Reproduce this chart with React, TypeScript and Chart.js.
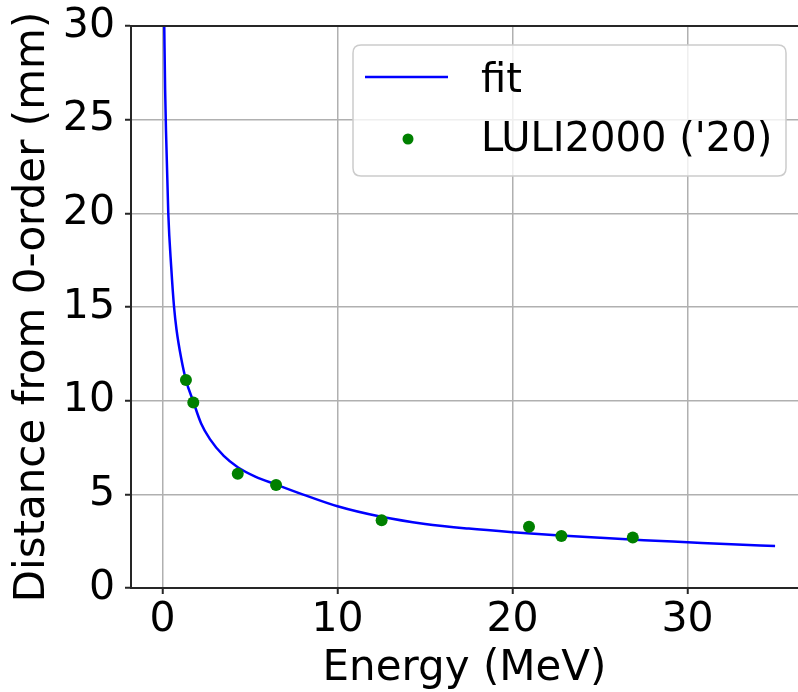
import React, { useEffect, useRef } from "react";
import { Chart, registerables } from "chart.js";

Chart.register(...registerables);

// Fit curve (Energy in MeV, distance in mm)
const fitEnergy = [0.1, 0.15, 0.2, 0.33, 0.5, 0.66, 0.8, 1.06, 1.34, 1.76, 2.2, 2.71, 3.5, 4.3, 5.3, 6.5, 8, 10, 12.5, 15, 17.5, 20, 22.5, 25, 27.5, 30, 32.5, 35];
const fitDistance = [30.0, 26.6, 24.4, 20.0, 17.1, 15.0, 13.8, 12.3, 11.1, 9.95, 8.8, 7.95, 7.05, 6.45, 5.95, 5.52, 5.0, 4.36, 3.8, 3.42, 3.17, 2.98, 2.82, 2.68, 2.55, 2.44, 2.33, 2.24];

// Measured points
const luliEnergy = [1.34, 1.76, 4.3, 6.49, 12.52, 20.94, 22.79, 26.87];
const luliDistance = [11.1, 9.9, 6.1, 5.5, 3.62, 3.27, 2.78, 2.69];

const xTicks = [0, 10, 20, 30];
const yTicks = [0, 5, 10, 15, 20, 25, 30];

const fitLabel = "fit";
const luliLabel = "LULI2000 ('20)";
const xTitle = "Energy (MeV)";
const yTitle = "Distance from 0-order (mm)";

const FONT = "'DejaVu Sans', sans-serif";
const FIT_COLOR = "#0000ff";
const DOT_COLOR = "#008000";
const SPINE = "#262626";

export default function App() {
  const ref = useRef<HTMLCanvasElement>(null);

  useEffect(() => {
    const canvas = ref.current;
    if (!canvas) return;

    const framePlugin = {
      id: "frameAndLegend",
      afterDraw(chart: any) {
        const ctx = chart.ctx as CanvasRenderingContext2D;
        const a = chart.chartArea;
        ctx.save();
        // top spine
        ctx.strokeStyle = SPINE;
        ctx.lineWidth = 2;
        ctx.beginPath();
        ctx.moveTo(a.left - 1, a.top);
        ctx.lineTo(a.right, a.top);
        ctx.stroke();

        // legend box
        const bx = 353, by = 45, bw = 433, bh = 131, r = 8;
        ctx.beginPath();
        ctx.moveTo(bx + r, by);
        ctx.lineTo(bx + bw - r, by);
        ctx.quadraticCurveTo(bx + bw, by, bx + bw, by + r);
        ctx.lineTo(bx + bw, by + bh - r);
        ctx.quadraticCurveTo(bx + bw, by + bh, bx + bw - r, by + bh);
        ctx.lineTo(bx + r, by + bh);
        ctx.quadraticCurveTo(bx, by + bh, bx, by + bh - r);
        ctx.lineTo(bx, by + r);
        ctx.quadraticCurveTo(bx, by, bx + r, by);
        ctx.closePath();
        ctx.fillStyle = "rgba(255,255,255,0.8)";
        ctx.fill();
        ctx.strokeStyle = "#cccccc";
        ctx.lineWidth = 1.5;
        ctx.stroke();

        const ds = chart.data.datasets;
        // fit handle
        ctx.strokeStyle = ds[0].borderColor;
        ctx.lineWidth = 2.5;
        ctx.beginPath();
        ctx.moveTo(365, 77);
        ctx.lineTo(448, 77);
        ctx.stroke();
        // marker handle
        ctx.fillStyle = ds[1].backgroundColor;
        ctx.beginPath();
        ctx.arc(408, 139, 5.5, 0, Math.PI * 2);
        ctx.fill();

        ctx.fillStyle = "#000";
        ctx.font = `40px ${FONT}`;
        ctx.textAlign = "left";
        ctx.textBaseline = "alphabetic";
        ctx.fillText(ds[0].label, 481, 92);
        ctx.fillText(ds[1].label, 481, 151);
        ctx.restore();
      },
    };

    const chart = new Chart(canvas, {
      type: "scatter",
      data: {
        datasets: [
          {
            label: fitLabel,
            data: fitEnergy.map((x, i) => ({ x, y: fitDistance[i] })),
            showLine: true,
            borderColor: FIT_COLOR,
            backgroundColor: FIT_COLOR,
            borderWidth: 2.5,
            pointRadius: 0,
            cubicInterpolationMode: "monotone",
            order: 2,
          } as any,
          {
            label: luliLabel,
            data: luliEnergy.map((x, i) => ({ x, y: luliDistance[i] })),
            showLine: false,
            backgroundColor: DOT_COLOR,
            borderColor: DOT_COLOR,
            borderWidth: 0,
            pointRadius: 6,
            order: 1,
          } as any,
        ],
      },
      options: {
        responsive: false,
        animation: false,
        devicePixelRatio: 1,
        layout: { autoPadding: false, padding: { left: 10, top: 26, right: 0, bottom: 0 } },
        plugins: {
          legend: { display: false },
          tooltip: { enabled: false },
        },
        scales: {
          x: {
            type: "linear",
            min: -1.8,
            max: 36.31,
            afterBuildTicks: (s: any) => {
              s.ticks = xTicks.map((v) => ({ value: v }));
            },
            afterFit: (s: any) => {
              s.height = 104;
            },
            ticks: {
              font: { family: FONT, size: 41, lineHeight: 1.2 },
              color: "#000",
              padding: 2,
              maxRotation: 0,
              autoSkip: false,
              callback: (v: any) => String(v),
            },
            grid: {
              color: "#b0b0b0",
              lineWidth: 1.5,
              tickLength: 6,
              tickColor: SPINE,
              tickWidth: 2,
            },
            border: { display: true, color: SPINE, width: 2 },
            title: {
              display: true,
              text: xTitle,
              color: "#000",
              font: { family: FONT, size: 42, lineHeight: 1.1 },
              padding: 0,
            },
          },
          y: {
            type: "linear",
            min: 0,
            max: 30,
            afterBuildTicks: (s: any) => {
              s.ticks = yTicks.map((v) => ({ value: v }));
            },
            afterFit: (s: any) => {
              s.width = 121;
            },
            ticks: {
              font: { family: FONT, size: 41, lineHeight: 0.7 },
              color: "#000",
              padding: 10,
              autoSkip: false,
              callback: (v: any) => String(v),
            },
            grid: {
              color: "#b0b0b0",
              lineWidth: 1.5,
              tickLength: 6,
              tickColor: SPINE,
              tickWidth: 2,
            },
            border: { display: true, color: SPINE, width: 2 },
            title: {
              display: true,
              text: yTitle,
              color: "#000",
              font: { family: FONT, size: 42, lineHeight: 1.1 },
              padding: 0,
            },
          },
        },
      },
      plugins: [framePlugin],
    });

    return () => chart.destroy();
  }, []);

  return (
    <div style={{ position: "fixed", left: 0, top: 0, width: 798, height: 692, background: "#fff" }}>
      <canvas ref={ref} width={798} height={692} style={{ display: "block" }} />
    </div>
  );
}
